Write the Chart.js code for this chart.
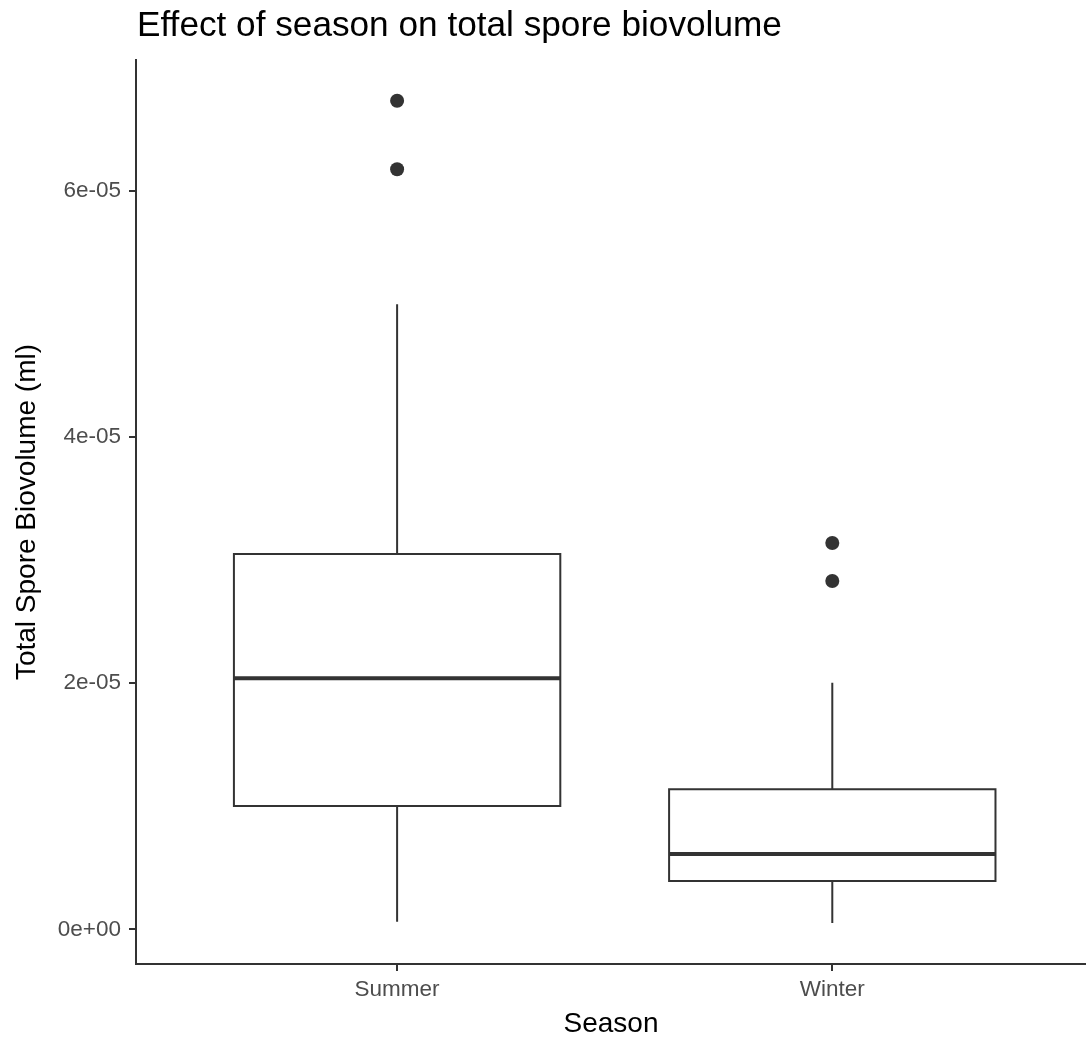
<!DOCTYPE html>
<html>
<head>
<meta charset="utf-8">
<title>Effect of season on total spore biovolume</title>
<script src="https://cdn.jsdelivr.net/npm/chart.js@4.4.1/dist/chart.umd.min.js"></script>
<style>
  html, body { margin: 0; padding: 0; background: #ffffff; }
  canvas { display: block; }
</style>
</head>
<body>
<canvas id="boxChart" width="1086" height="1039" style="width:1086px;height:1039px"></canvas>
<script>
// values
const seasons = ["Summer", "Winter"];
const seasonPos = [1, 2];
const lowerWhisker = [6.2e-7, 5.1e-7];
const lowerQuartile = [1.002e-5, 3.92e-6];
const medianValues = [2.04e-5, 6.12e-6];
const upperQuartile = [3.049e-5, 1.137e-5];
const upperWhisker = [5.078e-5, 2.003e-5];
const outlierValues = [[6.731e-5, 6.174e-5], [3.138e-5, 2.83e-5]];
const yTickValues = [0, 2e-5, 4e-5, 6e-5];
const yTickLabels = ["0e+00", "2e-05", "4e-05", "6e-05"];

const FONT = "'Liberation Sans', Arial, Helvetica, sans-serif";
const INK = "#333333";
const half = 0.375;

// build the point lists for the library
let boxPts = [], whiskerPts = [], medianPts = [], outlierPts = [];
for (let i = 0; i < seasons.length; i++) {
  const p = seasonPos[i];
  boxPts.push(
    { x: p - half, y: lowerQuartile[i] },
    { x: p + half, y: lowerQuartile[i] },
    { x: p + half, y: upperQuartile[i] },
    { x: p - half, y: upperQuartile[i] },
    { x: p - half, y: lowerQuartile[i] },
    { x: p, y: null }
  );
  whiskerPts.push(
    { x: p, y: lowerWhisker[i] }, { x: p, y: lowerQuartile[i] }, { x: p, y: null },
    { x: p, y: upperQuartile[i] }, { x: p, y: upperWhisker[i] }, { x: p, y: null }
  );
  medianPts.push({ x: p - half, y: medianValues[i] }, { x: p + half, y: medianValues[i] }, { x: p, y: null });
  outlierValues[i].forEach(v => outlierPts.push({ x: p, y: v }));
}

// plot title, left aligned with the panel
const titlePlugin = {
  id: "ggTitle",
  afterDraw(chart) {
    const ctx = chart.ctx;
    ctx.save();
    ctx.fillStyle = "#000000";
    ctx.font = "35.2px " + FONT;
    ctx.textBaseline = "alphabetic";
    ctx.textAlign = "left";
    ctx.fillText("Effect of season on total spore biovolume", chart.chartArea.left + 1, 36);
    ctx.restore();
  }
};

const ctx = document.getElementById("boxChart").getContext("2d");
const chart = new Chart(ctx, {
  type: "scatter",
  data: {
    datasets: [
      {
        label: "outliers",
        data: outlierPts,
        pointRadius: 7,
        pointBackgroundColor: INK,
        pointBorderColor: INK,
        pointBorderWidth: 0,
        showLine: false
      },
      {
        label: "median",
        data: medianPts,
        showLine: true,
        borderColor: INK,
        borderWidth: 4,
        borderCapStyle: "butt",
        pointRadius: 0,
        spanGaps: false
      },
      {
        label: "box",
        data: boxPts,
        showLine: true,
        borderColor: INK,
        borderWidth: 2,
        borderJoinStyle: "miter",
        borderCapStyle: "square",
        backgroundColor: "#ffffff",
        pointRadius: 0,
        spanGaps: false
      },
      {
        label: "whiskers",
        data: whiskerPts,
        showLine: true,
        borderColor: INK,
        borderWidth: 2,
        borderCapStyle: "butt",
        pointRadius: 0,
        spanGaps: false
      }
    ]
  },
  options: {
    responsive: false,
    animation: false,
    devicePixelRatio: 1,
    events: [],
    layout: { autoPadding: false, padding: { top: 60, right: 0, left: 0, bottom: 0 } },
    plugins: {
      legend: { display: false },
      tooltip: { enabled: false },
      title: { display: false }
    },
    scales: {
      x: {
        type: "linear",
        min: 0.4,
        max: 2.583,
        afterBuildTicks: (scale) => { scale.ticks = seasonPos.map(v => ({ value: v })); },
        afterFit: (scale) => { scale.height = 75; },
        ticks: {
          callback: (v) => seasons[seasonPos.indexOf(v)] || "",
          color: "#4d4d4d",
          font: { family: FONT, size: 22.5 },
          padding: 5,
          maxRotation: 0,
          autoSkip: false
        },
        grid: { drawOnChartArea: false, drawTicks: true, tickLength: 7, color: INK, lineWidth: 2 },
        border: { display: true, color: INK, width: 2 },
        title: {
          display: true,
          text: "Season",
          color: "#000000",
          font: { family: FONT, size: 28, lineHeight: 1 },
          padding: { top: 0, bottom: 1 }
        }
      },
      y: {
        type: "linear",
        min: -2.819e-6,
        max: 7.062e-5,
        afterBuildTicks: (scale) => { scale.ticks = yTickValues.map(v => ({ value: v })); },
        afterFit: (scale) => { scale.width = 136; },
        ticks: {
          callback: (v) => yTickLabels[yTickValues.indexOf(v)],
          color: "#4d4d4d",
          font: { family: FONT, size: 22.5 },
          padding: 8
        },
        grid: { drawOnChartArea: false, drawTicks: true, tickLength: 7, color: INK, lineWidth: 2 },
        border: { display: true, color: INK, width: 2 },
        title: {
          display: true,
          text: "Total Spore Biovolume (ml)",
          color: "#000000",
          font: { family: FONT, size: 28, lineHeight: 1 },
          padding: { top: 13, bottom: 0 }
        }
      }
    }
  },
  plugins: [titlePlugin]
});
</script>
</body>
</html>
